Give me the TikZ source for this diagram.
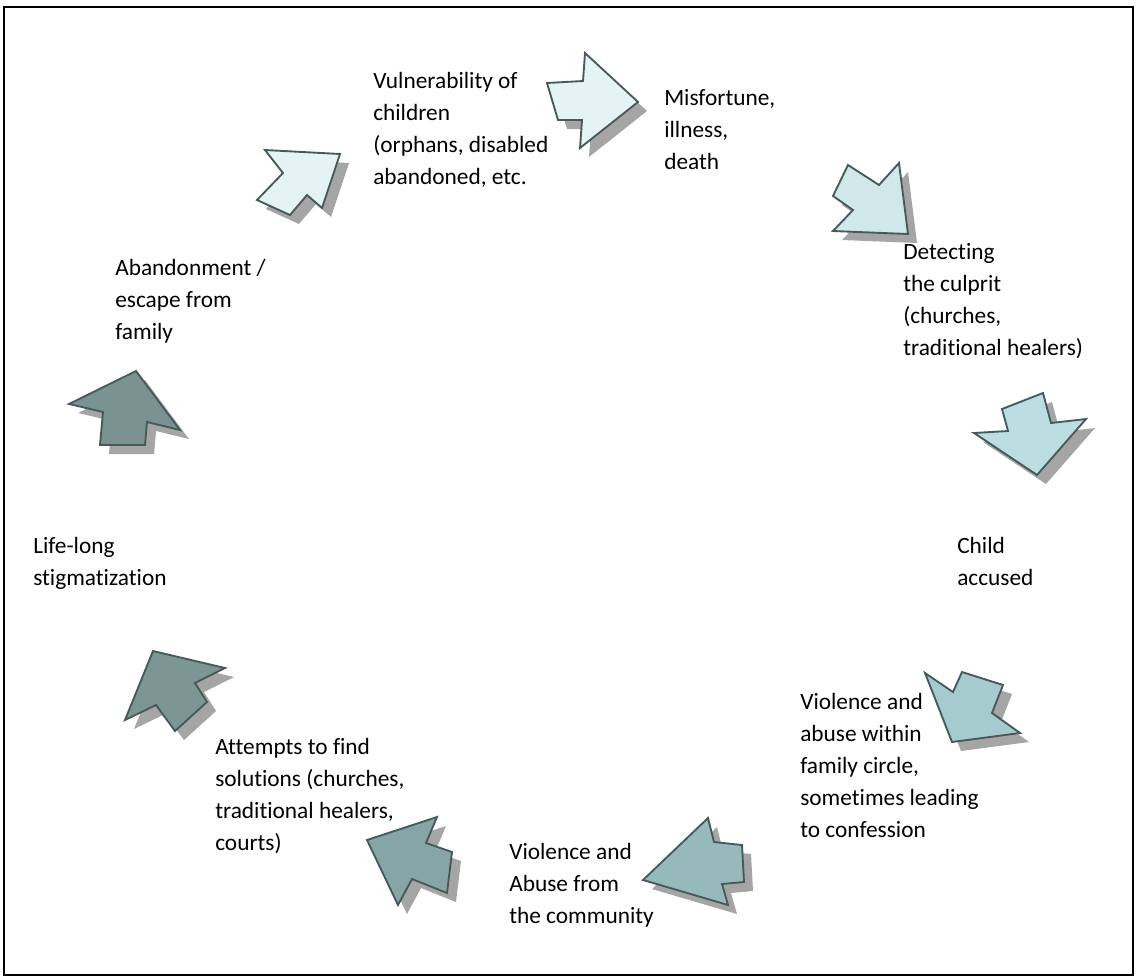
\documentclass[tikz,border=0pt]{standalone}
\usepackage{fontspec}
\setmainfont{Carlito}[Ligatures=NoCommon]
\definecolor{edgec}{RGB}{70,90,90}
\definecolor{shadowc}{RGB}{165,165,165}
\definecolor{stepA}{RGB}{228,244,244}
\definecolor{stepB}{RGB}{228,243,243}
\definecolor{stepC}{RGB}{208,232,234}
\definecolor{stepD}{RGB}{186,222,226}
\definecolor{stepE}{RGB}{166,203,206}
\definecolor{stepF}{RGB}{150,186,188}
\definecolor{stepG}{RGB}{134,165,166}
\definecolor{stepH}{RGB}{124,150,150}
\definecolor{stepI}{RGB}{122,146,146}
\tikzset{
	lbl/.style={anchor=north west,align=left,inner sep=0pt,font=\fontsize{17.5}{24}\selectfont},
	blockarrow/.style={draw=edgec,line width=1.4pt,line join=miter},
	arrowshadow/.style={fill=shadowc}
}
% block arrow with its shadow: #1 colour, #2 outline
\newcommand{\cyclearrow}[2]{
	\fill[arrowshadow,shift={(9,9)}] #2 -- cycle;
	\filldraw[blockarrow,fill=#1] #2 -- cycle;
}
\begin{document}
\begin{tikzpicture}[x=0.75pt,y=-0.75pt]
	\useasboundingbox (0,0) rectangle (1137,979);
	\fill[white] (0,0) rectangle (1137,979);
	\draw[line width=1.5pt] (4,7) rectangle (1133,975);
	
	\node[lbl] (vuln) at (373,72) {Vulnerability of\\children\\(orphans, disabled\\abandoned, etc.};
	\node[lbl] (misf) at (664,89) {Misfortune,\\illness,\\death};
	\node[lbl] (detect) at (903,243) {Detecting\\the culprit\\(churches,\\traditional healers)};
	\node[lbl] (child) at (957,537) {Child\\accused};
	\node[lbl] (vfam) at (800,693) {Violence and\\abuse within\\family circle,\\sometimes leading\\to confession};
	\node[lbl] (vcom) at (509,843) {Violence and\\Abuse from\\the community};
	\node[lbl] (attempt) at (215,738) {Attempts to find\\solutions (churches,\\traditional healers,\\courts)};
	\node[lbl] (life) at (33,537) {Life-long\\stigmatization};
	\node[lbl] (aband) at (115,259) {Abandonment /\\escape from\\family};
	
	% arrows round the cycle
	\cyclearrow{stepA}{(547,83) -- (583,81) -- (585,53) -- (638,102) -- (580,148) -- (582,120) -- (558,120)}
	\cyclearrow{stepC}{(848,165) -- (879,185) -- (899,163) -- (908,234) -- (833,231) -- (853,210) -- (833,196)}
	\cyclearrow{stepD}{(1002,409) -- (1043,393) -- (1051,423) -- (1086,419) -- (1037,475) -- (974,433) -- (1008,431)}
	\cyclearrow{stepE}{(925,673) -- (953,692) -- (962,672) -- (1003,685) -- (992,713) -- (1020,733) -- (952,742)}
	\cyclearrow{stepF}{(708,818) -- (714,842) -- (742,845) -- (744,882) -- (722,884) -- (728,905) -- (643,880)}
	\cyclearrow{stepG}{(367,840) -- (437,817) -- (426,843) -- (452,852) -- (447,893) -- (412,879) -- (398,905)}
	\cyclearrow{stepH}{(153,651) -- (225,668) -- (195,683) -- (207,702) -- (175,731) -- (156,705) -- (125,720)}
	\cyclearrow{stepI}{(136,371) -- (180,430) -- (147,422) -- (145,445) -- (100,445) -- (103,412) -- (69,404)}
	\cyclearrow{stepB}{(340,154) -- (322,208) -- (307,195) -- (290,215) -- (257,200) -- (283,173) -- (265,150)}
\end{tikzpicture}
\end{document}
